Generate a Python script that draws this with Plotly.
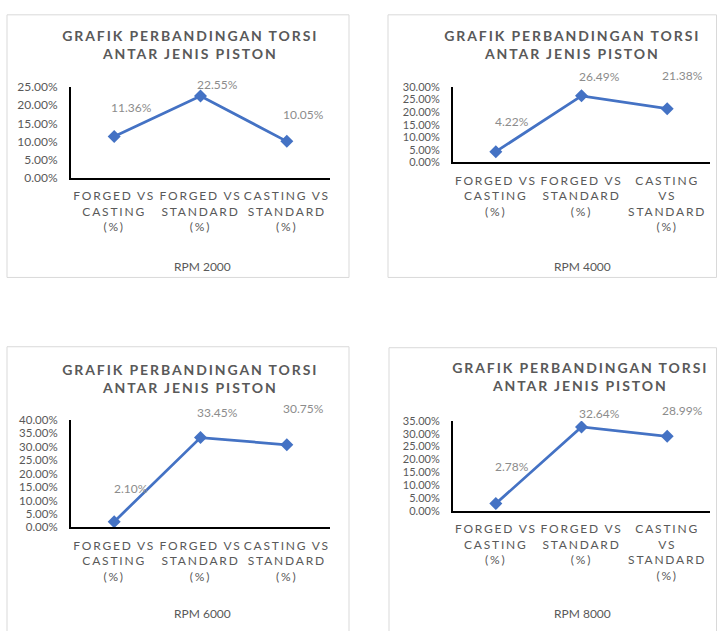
import plotly.graph_objects as go

# ---- data ----
categories = ["FORGED VS CASTING (%)", "FORGED VS STANDARD (%)", "CASTING VS STANDARD (%)"]
ticktext_a = ["FORGED VS<br>CASTING<br>(%)", "FORGED VS<br>STANDARD<br>(%)", "CASTING VS<br>STANDARD<br>(%)"]
ticktext_b = ["FORGED VS<br>CASTING<br>(%)", "FORGED VS<br>STANDARD<br>(%)", "CASTING<br>VS<br>STANDARD<br>(%)"]
rpm_labels = ["RPM 2000", "RPM 4000", "RPM 6000", "RPM 8000"]
torsi_rpm2000 = [0.1136, 0.2255, 0.1005]
torsi_rpm4000 = [0.0422, 0.2649, 0.2138]
torsi_rpm6000 = [0.0210, 0.3345, 0.3075]
torsi_rpm8000 = [0.0278, 0.3264, 0.2899]
y_max = [0.25, 0.30, 0.40, 0.35]
title_text = "GRAFIK PERBANDINGAN TORSI<br>ANTAR JENIS PISTON"

series = [torsi_rpm2000, torsi_rpm4000, torsi_rpm6000, torsi_rpm8000]
ticktexts = [ticktext_a, ticktext_b, ticktext_a, ticktext_b]

# ---- layout / style ----
W, H = 717, 631
def px_x(v): return v / W
def px_y(v): return 1 - v / H

x_domains = [(71, 330), (453, 710), (71, 330), (453, 710)]
y_domains = [(81, 174), (81, 158), (422, 532), (423, 515)]
title_pos = [(191, 37.5), (572, 37.5), (191, 380), (580, 377.5)]
rpm_pos = [(202, 265), (582, 265), (202, 620), (582, 620)]
frames = [(7, 7, 349, 276), (388, 7, 716.5, 276), (7, 347, 349, 640), (389, 348, 716.5, 640)]
ytick_sizes = [12, 11, 11.5, 11]
label_offsets = [
    [(17, -29), (17, -11), (17, -27)],
    [(16, -30), (18, -19), (15, -33)],
    [(17, -33), (17, -25), (17, -36)],
    [(16, -37), (18, -14), (15, -26)],
]

FONT = "Lato, 'Open Sans', sans-serif"
DARK = "#595959"
LIGHT = "#8c8c8c"
BLUE = "#4472c4"

fig = go.Figure()
annotations = []
shapes = []

# titles first (annotation indices 0-3 get letter spacing via CSS)
for i in range(4):
    tx, ty = title_pos[i]
    annotations.append(dict(
        text=title_text, x=px_x(tx), y=px_y(ty), xref="paper", yref="paper",
        xanchor="center", yanchor="middle", showarrow=False,
        font=dict(family=FONT, size=14, color=DARK, weight="bold"),
    ))

for i in range(4):
    sfx = "" if i == 0 else str(i + 1)
    xa, ya = "x" + sfx, "y" + sfx
    fig.add_trace(go.Scatter(
        x=categories, y=series[i], mode="lines+markers", xaxis=xa, yaxis=ya,
        line=dict(color=BLUE, width=2.75),
        marker=dict(symbol="diamond", size=10, color=BLUE),
        showlegend=False, hoverinfo="skip",
    ))
    x0, x1 = x_domains[i]
    ytop, ybot = y_domains[i]
    fig.layout["xaxis" + sfx] = dict(
        domain=[px_x(x0), px_x(x1)], anchor=ya, type="category",
        range=[-0.5, 2.5], tickvals=categories, ticktext=ticktexts[i],
        tickangle=0, showgrid=False, zeroline=False,
        showline=True, linecolor="#000000", linewidth=2,
        ticks="outside", ticklen=6, tickcolor="rgba(0,0,0,0)",
        tickfont=dict(family=FONT, size=12, color=DARK), fixedrange=True,
    )
    fig.layout["yaxis" + sfx] = dict(
        domain=[px_y(ybot), px_y(ytop)], anchor=xa, range=[0, y_max[i]],
        dtick=0.05, tickformat=".2%", showgrid=False, zeroline=False,
        showline=True, linecolor="#000000", linewidth=2,
        ticks="outside", ticklen=9, tickcolor="rgba(0,0,0,0)",
        tickfont=dict(family=FONT, size=ytick_sizes[i], color=DARK), fixedrange=True,
    )
    for j, v in enumerate(series[i]):
        dx, dy = label_offsets[i][j]
        annotations.append(dict(
            text=f"{v:.2%}", x=categories[j], y=v, xref=xa, yref=ya,
            xshift=dx, yshift=-dy, showarrow=False,
            font=dict(family=FONT, size=12, color=LIGHT),
        ))
    rx, ry = rpm_pos[i]
    annotations.append(dict(
        text=rpm_labels[i], x=px_x(rx), y=px_y(ry), xref="paper", yref="paper",
        xanchor="center", yanchor="middle", showarrow=False,
        font=dict(family=FONT, size=12, color=DARK),
    ))
    fx0, fy0, fx1, fy1 = frames[i]
    shapes.append(dict(
        type="rect", xref="paper", yref="paper",
        x0=px_x(fx0), x1=px_x(fx1), y0=px_y(fy1), y1=px_y(fy0),
        line=dict(color="#d9d9d9", width=1), fillcolor="rgba(0,0,0,0)", layer="below",
    ))

fig.update_layout(
    width=W, height=H, margin=dict(l=0, r=0, t=0, b=0),
    paper_bgcolor="white", plot_bgcolor="white",
    annotations=annotations, shapes=shapes, showlegend=False,
)

post = """
document.documentElement.style.margin = '0';
document.documentElement.style.overflow = 'hidden';
document.body.style.margin = '0';
document.body.style.overflow = 'hidden';
var gd = document.getElementById('{plot_id}');
gd.style.position = 'absolute';
gd.style.left = '0px';
gd.style.top = '0px';
var s = document.createElement('style');
s.textContent = '.xtick text, .x2tick text, .x3tick text, .x4tick text{letter-spacing:1.8px;}' +
  'g.annotation[data-index="0"] text, g.annotation[data-index="1"] text,' +
  'g.annotation[data-index="2"] text, g.annotation[data-index="3"] text{letter-spacing:1.9px;}';
document.head.appendChild(s);
"""

fig.write_html("out.html", post_script=post, config={"displayModeBar": False})
